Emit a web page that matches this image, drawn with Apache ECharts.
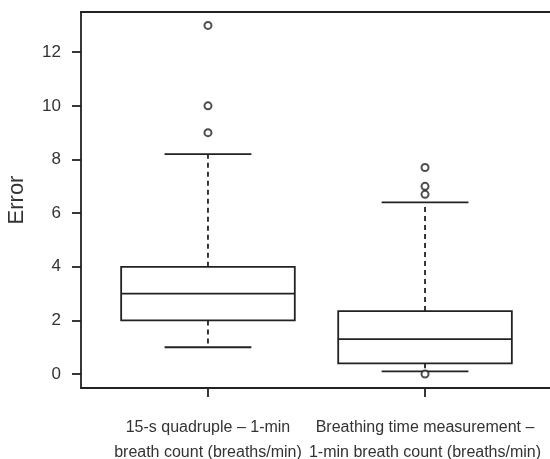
<!DOCTYPE html>
<html>
<head>
<meta charset="utf-8">
<script src="https://cdn.jsdelivr.net/npm/echarts@6/dist/echarts.min.js"></script>
<style>
    html, body { margin: 0; padding: 0; background: #fff; }
    #main { width: 550px; height: 459px; }
</style>
</head>
<body>
<div id="main"></div>
<script>
// 数据
var categories = [
    '15-s quadruple \u2013 1-min\nbreath count (breaths/min)',
    'Breathing time measurement \u2013\n1-min breath count (breaths/min)'
];
// [下须, Q1, 中位数, Q3, 上须]
var boxStats = [
    [1.0, 2.0, 3.0, 4.0, 8.2],
    [0.1, 0.4, 1.3, 2.35, 6.4]
];
var outliersA = [9, 10, 13];
var outliersB = [0, 6.7, 7.0, 7.7];
var yTicks = [0, 2, 4, 6, 8, 10, 12];
var xTicks = [1, 2];

var ink = '#222';
var font = 'Liberation Sans, Arial, sans-serif';

var boxData = boxStats.map(function (s, i) {
    return [xTicks[i]].concat(s);
});
var outlierData = outliersA.map(function (v) { return [1, v]; })
    .concat(outliersB.map(function (v) { return [2, v]; }));

function renderBox(params, api) {
    var x = api.value(0);
    var low = api.coord([x, api.value(1)]);
    var q1 = api.coord([x, api.value(2)]);
    var med = api.coord([x, api.value(3)]);
    var q3 = api.coord([x, api.value(4)]);
    var high = api.coord([x, api.value(5)]);
    var bw = api.size([0.8, 0])[0];
    var cw = api.size([0.4, 0])[0];
    var cx = q1[0];
    var solid = { stroke: ink, lineWidth: 1.8, fill: null };
    var dashed = { stroke: ink, lineWidth: 1.8, lineDash: [5, 4] };
    return {
        type: 'group',
        children: [
            { type: 'line', shape: { x1: cx, y1: q3[1], x2: cx, y2: high[1] }, style: dashed },
            { type: 'line', shape: { x1: cx, y1: q1[1], x2: cx, y2: low[1] }, style: dashed },
            { type: 'line', shape: { x1: cx - cw / 2, y1: high[1], x2: cx + cw / 2, y2: high[1] }, style: solid },
            { type: 'line', shape: { x1: cx - cw / 2, y1: low[1], x2: cx + cw / 2, y2: low[1] }, style: solid },
            { type: 'rect', shape: { x: cx - bw / 2, y: q3[1], width: bw, height: q1[1] - q3[1] }, style: { stroke: ink, lineWidth: 1.8, fill: '#fff' } },
            { type: 'line', shape: { x1: cx - bw / 2, y1: med[1], x2: cx + bw / 2, y2: med[1] }, style: solid }
        ]
    };
}

var chart = echarts.init(document.getElementById('main'));
var option = {
    animation: false,
    grid: { left: 81, top: 12, width: 471, height: 376, containLabel: false, outerBoundsMode: 'none' },
    xAxis: [{
        type: 'value',
        min: 0.415,
        max: 2.585,
        axisLine: { show: true, onZero: false, lineStyle: { color: ink, width: 1.8 } },
        axisTick: { show: true, customValues: xTicks, length: 9, lineStyle: { color: ink, width: 1.8 } },
        axisLabel: {
            show: true,
            customValues: xTicks,
            margin: 27,
            fontSize: 16,
            lineHeight: 25,
            color: '#333',
            fontFamily: font,
            formatter: function (v) { return categories[Math.round(v) - 1]; }
        },
        splitLine: { show: false }
    }, {
        type: 'value',
        position: 'top',
        min: 0.415,
        max: 2.585,
        axisLine: { show: true, onZero: false, lineStyle: { color: ink, width: 1.8 } },
        axisTick: { show: false },
        axisLabel: { show: false },
        splitLine: { show: false }
    }],
    yAxis: {
        type: 'value',
        min: -0.52,
        max: 13.5,
        name: 'Error',
        nameLocation: 'middle',
        nameGap: 53,
        nameTextStyle: { fontSize: 22, color: '#333', fontFamily: font },
        axisLine: { show: true, onZero: false, lineStyle: { color: ink, width: 1.8 } },
        axisTick: { show: true, customValues: yTicks, length: 9, lineStyle: { color: ink, width: 1.8 } },
        axisLabel: {
            customValues: yTicks,
            margin: 20,
            fontSize: 17,
            color: '#333',
            fontFamily: font
        },
        splitLine: { show: false }
    },
    series: [{
        type: 'custom',
        renderItem: renderBox,
        data: boxData,
        encode: { x: 0, y: [1, 2, 3, 4, 5] },
        z: 2
    }, {
        type: 'scatter',
        data: outlierData,
        symbol: 'emptyCircle',
        symbolSize: 7,
        itemStyle: { color: ink, borderColor: ink, borderWidth: 1.4 },
        z: 3
    }]
};
chart.setOption(option);
</script>
</body>
</html>
